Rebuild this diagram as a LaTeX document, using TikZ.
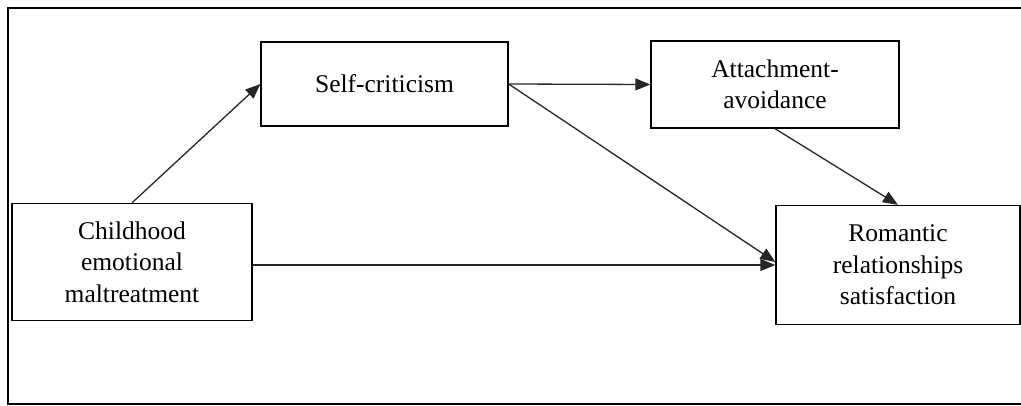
\documentclass[tikz,border=0pt]{standalone}
\usepackage{fontspec}
\setmainfont{Liberation Serif}
\usetikzlibrary{arrows.meta}

\begin{document}
\begin{tikzpicture}[x=1pt, y=1pt,
  box/.style={rectangle, draw=black, line width=1.3pt, fill=white, align=center, inner sep=0pt, font=\fontsize{25.5}{31.5}\selectfont},
  arr/.style={-{Triangle[length=15pt, width=12pt]}, line width=1.3pt, color=black!85}]
\useasboundingbox (0pt, 0pt) rectangle (1021pt, -406pt);
\draw [line width=1.5pt, color=black] (8pt, -8pt) rectangle (1030pt, -404pt);
\node (child) [box, minimum width=240pt, minimum height=117pt] at (132pt, -262pt) {Childhood\\emotional\\maltreatment};
\node (self) [box, minimum width=247pt, minimum height=84pt] at (384.5pt, -84pt) {Self-criticism};
\node (att) [box, minimum width=248pt, minimum height=87pt] at (775pt, -84.5pt) {Attachment-\\avoidance};
\node (rom) [box, minimum width=244pt, minimum height=119pt] at (898pt, -265pt) {Romantic\\relationships\\satisfaction};
\draw [arr] (child.north) to (self.west);
\draw [arr] (self.east) to (att.west);
\draw [arr] (self.east) to ([yshift=3pt]rom.west);
\draw [arr] (child.east |- rom.west) to (rom.west);
\draw [arr] (att.south) to (rom.north);
\end{tikzpicture}
\end{document}
